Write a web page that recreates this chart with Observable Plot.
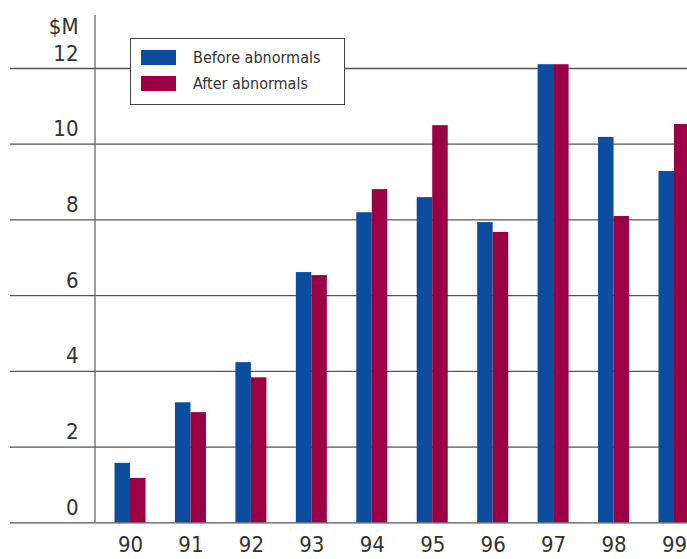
<!DOCTYPE html>
<html>
<head>
<meta charset="utf-8">
<script src="https://cdn.jsdelivr.net/npm/d3@7"></script>
<script src="https://cdn.jsdelivr.net/npm/@observablehq/plot@0.6"></script>
<style>
  html, body { margin: 0; padding: 0; background: #fff; }
  #chart { position: relative; width: 687px; height: 559px; font-family: "Liberation Sans Narrow", "DejaVu Sans Condensed", "Arial Narrow", sans-serif; }
  #chart svg { display: block; }
  .legend { position: absolute; left: 130px; top: 38px; width: 215px; height: 67px; border: 1px solid #444; background: #fff; box-sizing: border-box; }
  .legend .row { position: absolute; left: 10px; display: flex; align-items: center; font-size: 16px; color: #333; }
  .legend .sw { width: 35px; height: 15px; margin-right: 17px; }
</style>
</head>
<body>
<div id="chart"></div>
<script>
// Annual profit, $M, before and after abnormal items
const years = ["90", "91", "92", "93", "94", "95", "96", "97", "98", "99"];
const beforeAbnormals = [1.57, 3.17, 4.23, 6.61, 8.19, 8.59, 7.93, 12.1, 10.18, 9.28];
const afterAbnormals  = [1.17, 2.91, 3.83, 6.53, 8.80, 10.49, 7.67, 12.1, 8.09, 10.52];
const yTicks = [0, 2, 4, 6, 8, 10, 12];
const seriesNames = ["Before abnormals", "After abnormals"];
const seriesColors = ["#0c4da0", "#9b0045"];

const before = years.map((year, i) => ({year, value: beforeAbnormals[i]}));
const after = years.map((year, i) => ({year, value: afterAbnormals[i]}));

const W = 687, H = 559;
const marginLeft = 95, marginTop = 15, marginBottom = 37;
const step = 60.44;
const half = step * (1 - 0.487) / 2;
const font = '"Liberation Sans Narrow", "DejaVu Sans Condensed", "Arial Narrow", sans-serif';

const plot = Plot.plot({
  width: W,
  height: H,
  marginLeft,
  marginRight: 0,
  marginTop,
  marginBottom,
  style: {fontFamily: font, color: "#333", background: "#fff"},
  x: {domain: years, range: [99.8, 99.8 + step * years.length], paddingInner: 0.487, paddingOuter: 0.2435, round: false, label: null},
  y: {domain: [0, 12], range: [H - marginBottom + 0.3, 68], label: null},
  marks: [
    Plot.ruleY(yTicks, {stroke: "#555", strokeWidth: 1.3, insetLeft: -85}),
    Plot.barY(before, {x: "year", y: "value", fill: seriesColors[0], insetRight: half}),
    Plot.barY(after, {x: "year", y: "value", fill: seriesColors[1], insetLeft: half}),
    Plot.axisY(yTicks, {tickSize: 0, tickPadding: 17, dy: -15, fontSize: 22, fill: "#333", label: null}),
    Plot.axisX({tickSize: 0, tickPadding: 14, fontSize: 22, fill: "#333", label: null}),
    Plot.text(["$M"], {frameAnchor: "top-left", dx: -17, dy: 11, textAnchor: "end", lineAnchor: "middle", fontSize: 22, fill: "#333"})
  ]
});

// Vertical axis line on the left edge of the plot frame, down to the zero line
const yScale = plot.scale("y");
d3.select(plot).append("line")
  .attr("x1", marginLeft).attr("x2", marginLeft)
  .attr("y1", marginTop).attr("y2", yScale.apply(0))
  .attr("stroke", "#666").attr("stroke-width", 1.3);

const root = document.getElementById("chart");
root.appendChild(plot);

// Legend box
const legend = document.createElement("div");
legend.className = "legend";
seriesNames.forEach((name, i) => {
  const row = document.createElement("div");
  row.className = "row";
  row.style.top = (i === 0 ? 9 : 35) + "px";
  const sw = document.createElement("span");
  sw.className = "sw";
  sw.style.background = seriesColors[i];
  const label = document.createElement("span");
  label.textContent = name;
  row.appendChild(sw);
  row.appendChild(label);
  legend.appendChild(row);
});
root.appendChild(legend);
</script>
</body>
</html>
